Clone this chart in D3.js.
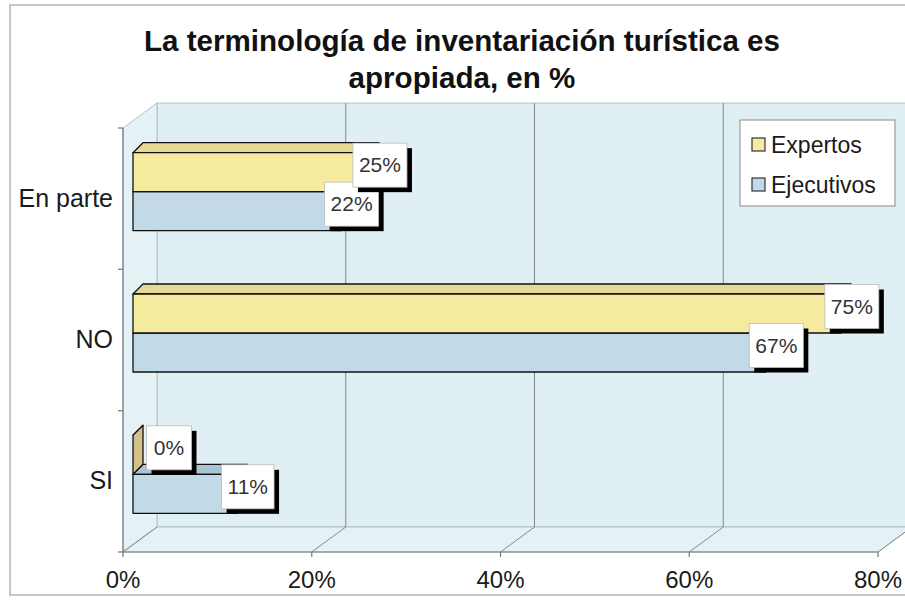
<!DOCTYPE html>
<html lang="es">
<head>
<meta charset="UTF-8">
<title>La terminología de inventariación turística es apropiada</title>
<script src="https://d3js.org/d3.v7.min.js"></script>
<style>
    body { margin: 0; padding: 0; background: #fff; }
    svg { display: block; font-family: "Liberation Sans", Arial, sans-serif; }
</style>
</head>
<body>
<div id="chart"></div>
<script>
// Data
const categories = ["En parte", "NO", "SI"];
const seriesNames = ["Expertos", "Ejecutivos"];
const expertos = [25, 75, 0];
const ejecutivos = [22, 67, 11];
const xTicks = [0, 20, 40, 60, 80];

const W = 905, H = 603;
const svg = d3.select("#chart").append("svg").attr("width", W).attr("height", H);

// front plane of the 3D plot and its depth vector
const plotLeft = 123, plotRight = 878, plotTop = 128, plotBottom = 552;
const depth = { dx: 34, dy: -25 };
const x = d3.scaleLinear().domain([0, 80]).range([plotLeft, plotRight]);
const y = d3.scaleBand().domain(categories).range([plotTop, plotBottom]);
const barH = 39;
const ySub = d3.scaleBand().domain(seriesNames).range([0, barH * 2]);

// bars sit a bit behind the front plane
const barShift = { dx: 10, dy: -7 };
const barDepth = { dx: 10, dy: -10 };

const colors = {
    Expertos: { front: "#f6ea9f", top: "#e6d996", side: "#d5c08a" },
    Ejecutivos: { front: "#c2d9e7", top: "#a9c5d5", side: "#97b5c6" }
};

// outer frame
svg.append("rect").attr("x", 10).attr("y", 5).attr("width", W + 10).attr("height", 590)
    .attr("fill", "#fff").attr("stroke", "#b4b4b4").attr("stroke-width", 1.5);

// walls
const pts = p => p.map(d => d.join(",")).join(" ");
svg.append("polygon") // back wall
    .attr("points", pts([[plotLeft + depth.dx, plotTop + depth.dy], [plotRight + depth.dx + 40, plotTop + depth.dy],
        [plotRight + depth.dx + 40, plotBottom + depth.dy], [plotLeft + depth.dx, plotBottom + depth.dy]]))
    .attr("fill", "#e0eff3").attr("stroke", "#aab6b8").attr("stroke-width", 0.8);
svg.append("polygon") // left wall
    .attr("points", pts([[plotLeft, plotTop], [plotLeft + depth.dx, plotTop + depth.dy],
        [plotLeft + depth.dx, plotBottom + depth.dy], [plotLeft, plotBottom]]))
    .attr("fill", "#e5f2f5").attr("stroke", "#aab6b8").attr("stroke-width", 0.8);
svg.append("polygon") // floor
    .attr("points", pts([[plotLeft, plotBottom], [plotLeft + depth.dx, plotBottom + depth.dy],
        [plotRight + depth.dx, plotBottom + depth.dy], [plotRight, plotBottom]]))
    .attr("fill", "#e5f2f5").attr("stroke", "#aab6b8").attr("stroke-width", 0.8);

// grid lines on back wall and floor
const grid = svg.append("g").attr("stroke", "#7f8a8c").attr("stroke-width", 1);
xTicks.forEach(t => {
    grid.append("line")
        .attr("x1", x(t)).attr("y1", plotBottom)
        .attr("x2", x(t) + depth.dx).attr("y2", plotBottom + depth.dy);
    if (t > 0) {
        grid.append("line")
            .attr("x1", x(t) + depth.dx).attr("y1", plotBottom + depth.dy)
            .attr("x2", x(t) + depth.dx).attr("y2", plotTop + depth.dy);
    }
});

// axes
const axis = svg.append("g").attr("stroke", "#777").attr("stroke-width", 1.2);
axis.append("line").attr("x1", plotLeft).attr("y1", plotTop).attr("x2", plotLeft).attr("y2", plotBottom);
axis.append("line").attr("x1", plotLeft).attr("y1", plotBottom).attr("x2", plotRight).attr("y2", plotBottom);
xTicks.forEach(t => {
    axis.append("line").attr("x1", x(t)).attr("y1", plotBottom).attr("x2", x(t)).attr("y2", plotBottom + 5);
});
categories.concat([null]).forEach(c => {
    const yy = c === null ? plotBottom : y(c);
    axis.append("line").attr("x1", plotLeft - 5).attr("y1", yy).attr("x2", plotLeft).attr("y2", yy);
});

svg.append("g").selectAll("text").data(xTicks).join("text")
    .attr("x", d => x(d)).attr("y", 588)
    .attr("text-anchor", "middle").attr("font-size", 24).attr("fill", "#1a1a1a")
    .text(d => d + "%");

svg.append("g").selectAll("text").data(categories).join("text")
    .attr("x", 113).attr("y", d => y(d) + y.bandwidth() / 2 + 8)
    .attr("text-anchor", "end").attr("font-size", 25).attr("fill", "#1a1a1a")
    .text(d => d);

// 3D bars
const barsData = [];
categories.forEach((c, i) => {
    // Ejecutivos first so the Expertos bar in front of it covers its top face
    barsData.push({ cat: c, s: "Ejecutivos", v: ejecutivos[i] });
    barsData.push({ cat: c, s: "Expertos", v: expertos[i] });
});

const bars = svg.append("g");
barsData.forEach(d => {
    const x0 = x(0) + barShift.dx, x1 = x(d.v) + barShift.dx;
    const y0 = y(d.cat) + y.bandwidth() / 2 + barShift.dy - barH + ySub(d.s);
    const y1 = y0 + barH;
    const col = colors[d.s];
    const g = bars.append("g").attr("stroke", "#111").attr("stroke-width", 1.3).attr("stroke-linejoin", "round");
    g.append("polygon").attr("fill", col.top)
        .attr("points", pts([[x0, y0], [x0 + barDepth.dx, y0 + barDepth.dy], [x1 + barDepth.dx, y0 + barDepth.dy], [x1, y0]]));
    g.append("polygon").attr("fill", col.side)
        .attr("points", pts([[x1, y0], [x1 + barDepth.dx, y0 + barDepth.dy], [x1 + barDepth.dx, y1 + barDepth.dy], [x1, y1]]));
    if (d.v > 0) {
        g.append("rect").attr("fill", col.front)
            .attr("x", x0).attr("y", y0).attr("width", x1 - x0).attr("height", barH);
    }
    d.cx = Math.max(x1 + 11, x(0) + 46);
    d.cy = (y0 + y1) / 2 - 7;
});

// value labels
const labels = svg.append("g");
barsData.forEach(d => {
    const g = labels.append("g");
    const t = g.append("text").attr("x", d.cx).attr("y", d.cy + 7)
        .attr("text-anchor", "middle").attr("font-size", 21).attr("fill", "#333")
        .text(d.v + "%");
    const tw = t.node().getComputedTextLength();
    const bw = Math.max(tw + 12, 45), bh = 44;
    g.insert("rect", "text").attr("x", d.cx - bw / 2 + 5).attr("y", d.cy - bh / 2 + 5)
        .attr("width", bw).attr("height", bh).attr("fill", "#000");
    g.insert("rect", "text").attr("x", d.cx - bw / 2).attr("y", d.cy - bh / 2)
        .attr("width", bw).attr("height", bh).attr("fill", "#fff")
        .attr("stroke", "#bbb").attr("stroke-width", 0.8);
});

// legend
const legend = svg.append("g");
legend.append("rect").attr("x", 740).attr("y", 120).attr("width", 155).attr("height", 86)
    .attr("fill", "#fff").attr("stroke", "#8a8a8a").attr("stroke-width", 1);
seriesNames.forEach((s, i) => {
    const ly = 145 + i * 40;
    legend.append("rect").attr("x", 752).attr("y", ly - 7).attr("width", 13).attr("height", 13)
        .attr("fill", colors[s].front).attr("stroke", "#333").attr("stroke-width", 1.2);
    legend.append("text").attr("x", 771).attr("y", ly + 8)
        .attr("font-size", 23).attr("fill", "#1a1a1a").text(s);
});

// title, squeezed to the width of the original
const titleLines = ["La terminología de inventariación turística es", "apropiada, en %"];
const title = svg.append("g").attr("font-weight", "bold").attr("font-size", 30).attr("fill", "#111");
const tl = titleLines.map((s, i) => title.append("text")
    .attr("x", 462).attr("y", 51 + i * 37).attr("text-anchor", "middle").text(s));
const k = Math.min(1, 636 / tl[0].node().getComputedTextLength());
tl.forEach(t => {
    const w = t.node().getComputedTextLength();
    t.attr("textLength", w * k).attr("lengthAdjust", "spacingAndGlyphs");
});
</script>
</body>
</html>
